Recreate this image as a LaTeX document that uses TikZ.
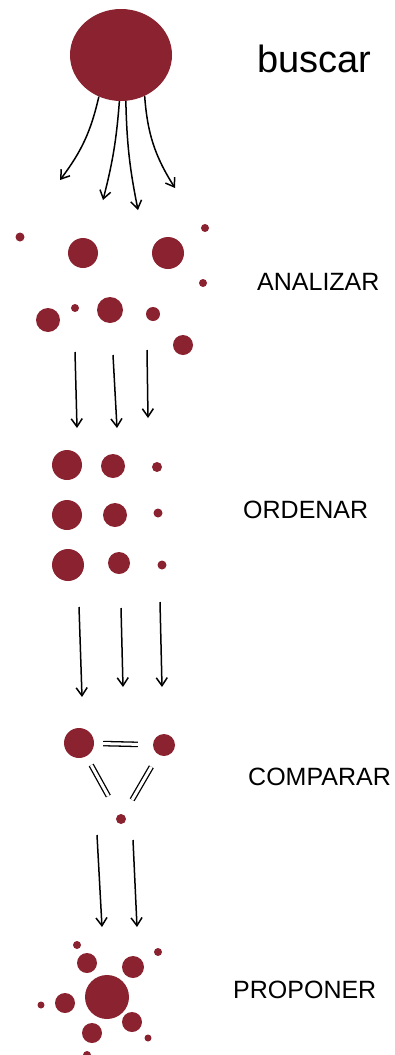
\documentclass[tikz,border=0pt]{standalone}
\usepackage{fontspec}
\setmainfont{Liberation Sans}
\usetikzlibrary{arrows.meta,shapes.geometric}
\definecolor{wine}{RGB}{138,34,48}

\begin{document}
\begin{tikzpicture}[x=1pt,y=-1pt,
    dot/.style={circle,fill=wine,inner sep=0pt,minimum size=#1pt},
    arr/.style={-{Straight Barb[length=8pt,width=11pt]},line width=1.5pt},
    eq/.style={double,double distance=3pt,line width=1.3pt},
    lbl/.style={anchor=base west,inner sep=0pt,font=\fontsize{25}{28}\selectfont}]
  \useasboundingbox (0,0) rectangle (395,1055);

  \node[ellipse,fill=wine,inner sep=0pt,minimum width=102pt,minimum height=92pt] (B) at (121,55){};
  \node[lbl,font=\fontsize{38}{40}\selectfont] (Lb) at (257,72){buscar};
  \coordinate (b1) at (60,180);
  \coordinate (b2) at (103,200);
  \coordinate (b3) at (138,210);
  \coordinate (b4) at (175,188);
  \draw (B.-118) edge[arr,bend left=12] (b1);
  \draw (B.-92) edge[arr,bend left=5] (b2);
  \draw (B.-84) edge[arr,bend right=5] (b3);
  \draw (B.-60) edge[arr,bend right=14] (b4);

  \node[dot=9] (a1) at (20,237){};
  \node[dot=30] (a2) at (83,253){};
  \node[dot=32] (a3) at (168,253){};
  \node[dot=8] (a4) at (205,228){};
  \node[dot=8] (a5) at (203,283){};
  \node[dot=24] (a6) at (48,320){};
  \node[dot=8] (a7) at (75,308){};
  \node[dot=26] (a8) at (110,310){};
  \node[dot=14] (a9) at (153,314){};
  \node[dot=20] (a10) at (183,345){};
  \node[lbl] (La) at (257,290){ANALIZAR};
  \coordinate (s1) at (75,352);
  \coordinate (t1) at (77,428);
  \coordinate (s2) at (113,355);
  \coordinate (t2) at (117,428);
  \coordinate (s3) at (147,350);
  \coordinate (t3) at (148,418);
  \draw (s1) edge[arr] (t1);
  \draw (s2) edge[arr] (t2);
  \draw (s3) edge[arr] (t3);

  \node[dot=30] (o11) at (67,465){};
  \node[dot=24] (o12) at (113,466){};
  \node[dot=10] (o13) at (157,467){};
  \node[dot=30] (o21) at (67,515){};
  \node[dot=24] (o22) at (115,515){};
  \node[dot=9] (o23) at (158,513){};
  \node[dot=32] (o31) at (68,565){};
  \node[dot=22] (o32) at (119,563){};
  \node[dot=9] (o33) at (162,565){};
  \node[lbl] (Lo) at (243,518){ORDENAR};
  \coordinate (u1) at (79,607);
  \coordinate (v1) at (82,697);
  \coordinate (u2) at (121,608);
  \coordinate (v2) at (123,687);
  \coordinate (u3) at (160,602);
  \coordinate (v3) at (162,687);
  \draw (u1) edge[arr] (v1);
  \draw (u2) edge[arr] (v2);
  \draw (u3) edge[arr] (v3);

  \node[dot=30] (cA) at (79,743){};
  \node[dot=22] (cB) at (164,745){};
  \node[dot=10] (cC) at (121,819){};
  \draw[eq,shorten <=9pt,shorten >=15pt] (cA) -- (cB);
  \draw[eq,shorten <=10pt,shorten >=21pt] (cA) -- (cC);
  \draw[eq,shorten <=14pt,shorten >=17pt] (cB) -- (cC);
  \node[lbl] (Lc) at (248,785){COMPARAR};
  \coordinate (w1) at (97,835);
  \coordinate (z1) at (102,927);
  \coordinate (w2) at (133,840);
  \coordinate (z2) at (137,927);
  \draw (w1) edge[arr] (z1);
  \draw (w2) edge[arr] (z2);

  \node[dot=44] (P) at (107,997){};
  \node[dot=20] (p1) at (87,963){};
  \node[dot=22] (p2) at (133,967){};
  \node[dot=20] (p3) at (65,1003){};
  \node[dot=20] (p4) at (132,1022){};
  \node[dot=20] (p5) at (92,1033){};
  \node[dot=8] (p6) at (77,945){};
  \node[dot=8] (p7) at (158,952){};
  \node[dot=7] (p8) at (41,1005){};
  \node[dot=7] (p9) at (148,1038){};
  \node[dot=8] (p10) at (87,1055){};
  \node[lbl] (Lp) at (233,998){PROPONER};
\end{tikzpicture}
\end{document}
